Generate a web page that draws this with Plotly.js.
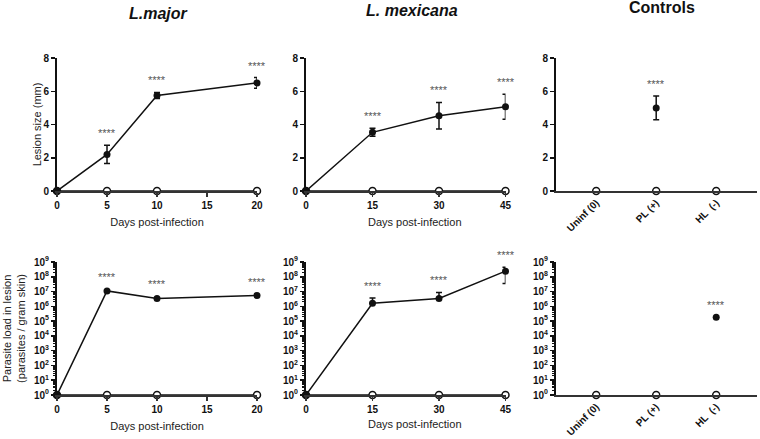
<!DOCTYPE html>
<html>
<head>
<meta charset="utf-8">
<script src="https://cdn.plot.ly/plotly-3.0.1.min.js"></script>
<style>
  body { margin: 0; background: #fff; }
  #graph { width: 760px; height: 439px; }
</style>
</head>
<body>
<div id="graph"></div>
<script>
// L. major
var lmDays = [0, 5, 10, 20];
var lmLesion = [0, 2.2, 5.75, 6.5];
var lmLesionErr = [0, 0.55, 0.18, 0.32];
var lmLesionCtrl = [0, 0, 0, 0];
var lmLoad = [1, 1.1e7, 3.4e6, 5.4e6];
var lmLoadCtrl = [1, 1, 1, 1];
var lmSig = ['', '****', '****', '****'];

// L. mexicana
var mxDays = [0, 15, 30, 45];
var mxLesion = [0, 3.53, 4.53, 5.07];
var mxLesionErr = [0, 0.24, 0.8, 0.75];
var mxLesionCtrl = [0, 0, 0, 0];
var mxLoad = [1, 1.6e6, 3.4e6, 2.4e8];
var mxLoadErrPlus = [0, 2.1e6, 5.3e6, 2.0e8];
var mxLoadErrMinus = [0, 0, 0, 2.05e8];
var mxLoadCtrl = [1, 1, 1, 1];
var mxSig = ['', '****', '****', '****'];

// Controls
var ctrlGroups = ['Uninf (0)', 'PL (+)', 'HL  (-)'];
var ctrlLesionOpen = [0, 0, 0];
var ctrlLesionGroup = ['PL (+)'];
var ctrlLesion = [5.0];
var ctrlLesionErr = [0.72];
var ctrlLoadOpen = [1, 1, 1];
var ctrlLoadGroup = ['HL  (-)'];
var ctrlLoad = [1.8e5];
var ctrlSig = ['****'];

var logTicks = [1, 10, 100, 1e3, 1e4, 1e5, 1e6, 1e7, 1e8, 1e9];
var logTickText = ['0','1','2','3','4','5','6','7','8','9'].map(function(p){ return '10<sup>' + p + '</sup>'; });

var FONT = 'Liberation Sans, Arial, sans-serif';

function openTrace(x, y, xa, ya, withLine) {
  return {
    x: x, y: y, xaxis: xa, yaxis: ya, type: 'scatter',
    mode: withLine ? 'lines+markers' : 'markers',
    line: {color: '#111', width: 1.5},
    marker: {symbol: 'circle', size: 7, color: '#fff', line: {color: '#111', width: 1.5}},
    cliponaxis: false, showlegend: false
  };
}
function filledTrace(x, y, xa, ya, withLine, errPlus, errMinus) {
  var t = {
    x: x, y: y, xaxis: xa, yaxis: ya, type: 'scatter',
    mode: withLine ? 'lines+markers' : 'markers',
    line: {color: '#111', width: 1.5},
    marker: {symbol: 'circle', size: 7, color: '#111'},
    cliponaxis: false, showlegend: false
  };
  if (errPlus) {
    t.error_y = {type: 'data', array: errPlus, arrayminus: errMinus || errPlus,
                 symmetric: !errMinus, color: '#111', thickness: 1.5, width: 3};
  }
  return t;
}

var data = [
  openTrace(lmDays, lmLesionCtrl, 'x', 'y', true),
  filledTrace(lmDays, lmLesion, 'x', 'y', true, lmLesionErr),
  openTrace(mxDays, mxLesionCtrl, 'x2', 'y2', true),
  filledTrace(mxDays, mxLesion, 'x2', 'y2', true, mxLesionErr),
  openTrace(ctrlGroups, ctrlLesionOpen, 'x3', 'y3', false),
  filledTrace(ctrlLesionGroup, ctrlLesion, 'x3', 'y3', false, ctrlLesionErr),
  openTrace(lmDays, lmLoadCtrl, 'x4', 'y4', true),
  filledTrace(lmDays, lmLoad, 'x4', 'y4', true),
  openTrace(mxDays, mxLoadCtrl, 'x5', 'y5', true),
  filledTrace(mxDays, mxLoad, 'x5', 'y5', true, mxLoadErrPlus, mxLoadErrMinus),
  openTrace(ctrlGroups, ctrlLoadOpen, 'x6', 'y6', false),
  filledTrace(ctrlLoadGroup, ctrlLoad, 'x6', 'y6', false)
];

var tickFont = {family: FONT, size: 10, color: '#111', weight: 700};
var titleFont = {family: FONT, size: 11, color: '#222'};

function xAxis(domain, anchor, range, dtick, title) {
  var a = {
    domain: domain, anchor: anchor, range: range, dtick: dtick, tick0: 0,
    showline: true, linewidth: 2, linecolor: '#333', showgrid: false, zeroline: false,
    ticks: 'outside', ticklen: 4, tickwidth: 1.5, tickcolor: '#333',
    tickfont: tickFont
  };
  if (title) a.title = {text: title, font: titleFont, standoff: 8};
  return a;
}
function catAxis(domain, anchor) {
  return {
    domain: domain, anchor: anchor, type: 'category', categoryarray: ctrlGroups,
    range: [-0.67, 2.68], tickangle: -45,
    showline: true, linewidth: 2, linecolor: '#333', showgrid: false, zeroline: false,
    ticks: '', tickfont: tickFont
  };
}
function linY(domain, anchor, title) {
  var a = {
    domain: domain, anchor: anchor, range: [0, 8], dtick: 2,
    showline: true, linewidth: 2, linecolor: '#111', showgrid: false, zeroline: false,
    ticks: 'outside', ticklen: 4, tickwidth: 1.5, tickcolor: '#111',
    tickfont: tickFont
  };
  if (title) a.title = {text: title, font: titleFont, standoff: 0};
  return a;
}
function logY(domain, anchor, title) {
  var a = {
    domain: domain, anchor: anchor, type: 'log', range: [0, 9],
    tickmode: 'array', tickvals: logTicks, ticktext: logTickText,
    showline: true, linewidth: 2, linecolor: '#111', showgrid: false, zeroline: false,
    ticks: 'outside', ticklen: 4, tickwidth: 1.5, tickcolor: '#111',
    minor: {dtick: 'D1', ticks: 'outside', ticklen: 2, tickwidth: 1, tickcolor: '#111'},
    tickfont: tickFont
  };
  if (title) a.title = {text: title, font: titleFont, standoff: 6};
  return a;
}

var W = 760, H = 439;
function dx(a, b) { return [a / W, b / W]; }
function dy(top, bottom) { return [1 - bottom / H, 1 - top / H]; }

var annotations = [];
function stars(xs, ys, sig, xref, yref, shift, isLog) {
  for (var i = 0; i < xs.length; i++) {
    if (!sig[i]) continue;
    annotations.push({
      x: xs[i], y: isLog ? Math.log10(ys[i]) : ys[i], xref: xref, yref: yref,
      text: sig[i], showarrow: false, yshift: shift,
      font: {family: FONT, size: 11, color: '#555'}
    });
  }
}
function sum(a, b) { return a.map(function(v, i){ return v + (b ? b[i] : 0); }); }

stars(lmDays, sum(lmLesion, lmLesionErr), lmSig, 'x', 'y', 12, false);
stars(mxDays, sum(mxLesion, mxLesionErr), mxSig, 'x2', 'y2', 12, false);
stars(ctrlLesionGroup, sum(ctrlLesion, ctrlLesionErr), ctrlSig, 'x3', 'y3', 12, false);
stars(lmDays, lmLoad, lmSig, 'x4', 'y4', 14, true);
stars(mxDays, sum(mxLoad, mxLoadErrPlus), mxSig, 'x5', 'y5', 12, true);
stars(ctrlLoadGroup, ctrlLoad, ctrlSig, 'x6', 'y6', 12, true);

var panelTitles = [
  {text: 'L.major', x: 158, y: 14, style: 'italic'},
  {text: 'L. mexicana', x: 412, y: 11, style: 'italic'},
  {text: 'Controls', x: 662, y: 8, style: 'normal'}
];
panelTitles.forEach(function(p) {
  annotations.push({
    text: p.text, x: p.x / W, y: 1 - p.y / H, xref: 'paper', yref: 'paper',
    xanchor: 'center', yanchor: 'middle', showarrow: false,
    font: {family: FONT, size: 16, color: '#111', weight: 700, style: p.style}
  });
});

// x titles of the middle panels sit a little right of the axis centre
[{x: 415, y: 222}, {x: 415, y: 424}].forEach(function(p) {
  annotations.push({
    text: 'Days post-infection', x: p.x / W, y: 1 - p.y / H, xref: 'paper', yref: 'paper',
    xanchor: 'center', yanchor: 'middle', showarrow: false, font: titleFont
  });
});

var topRow = dy(58, 191), botRow = dy(262, 395);

var layout = {
  width: W, height: H,
  margin: {l: 0, r: 0, t: 0, b: 0},
  paper_bgcolor: '#fff', plot_bgcolor: '#fff',
  font: {family: FONT},
  showlegend: false,
  xaxis: xAxis(dx(57, 257), 'y', [0, 20], 5, 'Days post-infection'),
  yaxis: linY(topRow, 'x', 'Lesion size (mm)'),
  xaxis2: xAxis(dx(306, 505.5), 'y2', [0, 45], 15),
  yaxis2: linY(topRow, 'x2'),
  xaxis3: catAxis(dx(556, 757), 'y3'),
  yaxis3: linY(topRow, 'x3'),
  xaxis4: xAxis(dx(57, 257), 'y4', [0, 20], 5, 'Days post-infection'),
  yaxis4: logY(botRow, 'x4', 'Parasite load in lesion<br>(parasites / gram skin)'),
  xaxis5: xAxis(dx(306, 505.5), 'y5', [0, 45], 15),
  yaxis5: logY(botRow, 'x5'),
  xaxis6: catAxis(dx(556, 757), 'y6'),
  yaxis6: logY(botRow, 'x6'),
  annotations: annotations
};

Plotly.newPlot('graph', data, layout, {staticPlot: true});
</script>
</body>
</html>
